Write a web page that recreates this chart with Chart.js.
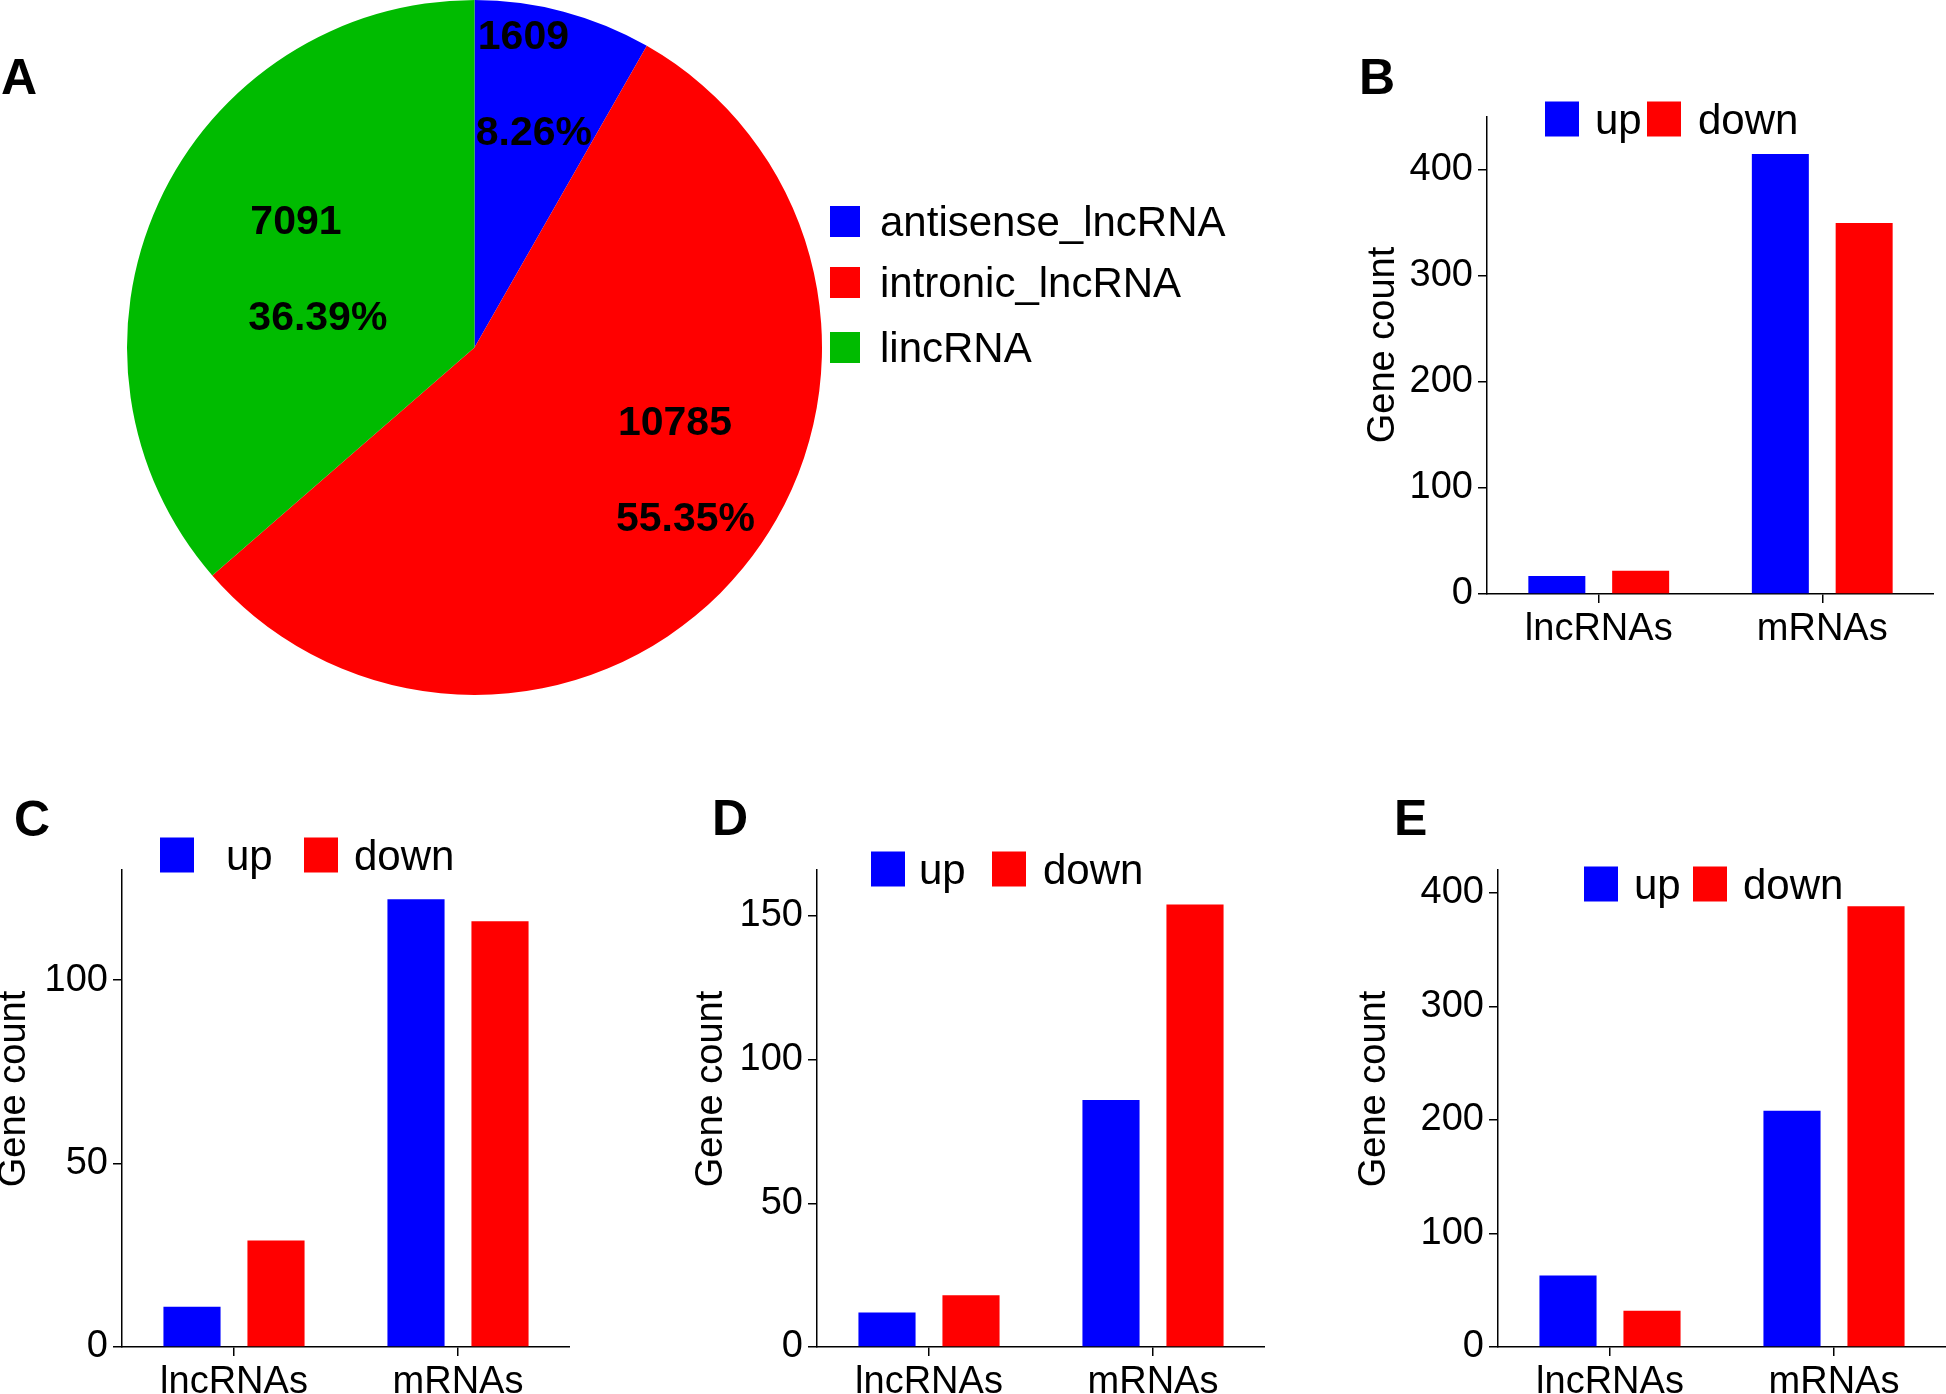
<!DOCTYPE html>
<html>
<head>
<meta charset="utf-8">
<title>lncRNA / mRNA counts</title>
<script src="https://cdn.jsdelivr.net/npm/chart.js@4.4.1/dist/chart.umd.min.js"></script>
<style>
  html, body { margin: 0; padding: 0; background: #fff; }
  #page { position: relative; width: 1946px; height: 1394px; overflow: hidden; background: #fff; }
  #page canvas { position: absolute; }
  .tag { position: absolute; font: bold 50px 'Liberation Sans', Arial, sans-serif; line-height: 50px; color: #000; }
</style>
</head>
<body>
<div id="page">
  <span class="tag" style="left:1px;top:52px">A</span>
  <span class="tag" style="left:1359px;top:52px">B</span>
  <span class="tag" style="left:14px;top:794px">C</span>
  <span class="tag" style="left:712px;top:793px">D</span>
  <span class="tag" style="left:1394px;top:793px">E</span>
</div>
<script>
// ---- data ----
var pieLabels = ['antisense_lncRNA', 'intronic_lncRNA', 'lincRNA'];
var pieCounts = [1609, 10785, 7091];
var pieColors = ['#0000FF', '#FF0000', '#00BB00'];

var categories = ['lncRNAs', 'mRNAs'];
var seriesNames = ['up', 'down'];
var seriesColors = ['#0000FF', '#FF0000'];

var upB = [17, 415];
var downB = [22, 350];
var upC = [11, 122];
var downC = [29, 116];
var upD = [12, 86];
var downD = [18, 154];
var upE = [63, 208];
var downE = [32, 388];

var yMaxB = 450, yStepB = 100;
var yMaxC = 130, yStepC = 50;
var yMaxD = 166, yStepD = 50;
var yMaxE = 420, yStepE = 100;

var FONT = "'Liberation Sans', Arial, Helvetica, sans-serif";
Chart.defaults.font.family = FONT;
Chart.defaults.color = '#000';

var page = document.getElementById('page');

function addCanvas(left, top, width, height) {
    var c = document.createElement('canvas');
    c.width = width;
    c.height = height;
    c.style.left = left + 'px';
    c.style.top = top + 'px';
    c.style.width = width + 'px';
    c.style.height = height + 'px';
    page.appendChild(c);
    return c;
}

/*
 * Pie: slice labels (count + percent) and the legend on the right
 */
var pieDecor = {
    id: 'pieDecor',
    afterDraw: function(chart, args, opts) {
        var ctx = chart.ctx;
        var values = chart.data.datasets[0].data;
        var colors = chart.data.datasets[0].backgroundColor;
        var total = values.reduce(function(a, b) { return a + b; }, 0);
        var meta = chart.getDatasetMeta(0);

        ctx.save();
        ctx.fillStyle = '#000';
        ctx.font = 'bold 41px ' + FONT;
        ctx.textAlign = 'left';
        ctx.textBaseline = 'alphabetic';
        meta.data.forEach(function(arc, i) {
            var p = arc.getProps(['x', 'y', 'startAngle', 'endAngle', 'outerRadius'], true);
            var mid = (p.startAngle + p.endAngle) / 2 + opts.nudge[i] * Math.PI / 180;
            var r = p.outerRadius * opts.radius[i];
            var cx = p.x + Math.cos(mid) * r;
            var cy = p.y + Math.sin(mid) * r;
            var pct = (values[i] / total * 100).toFixed(2) + '%';
            var w = ctx.measureText(pct).width;
            var x = cx - w / 2;
            ctx.fillText(String(values[i]), x + 2, cy - 34);
            ctx.fillText(pct, x, cy + 62);
        });

        // legend
        ctx.font = '42px ' + FONT;
        chart.data.labels.forEach(function(label, i) {
            var y = opts.legendY[i];
            ctx.fillStyle = colors[i];
            ctx.fillRect(opts.boxX, y - 15, 30, 31);
            ctx.fillStyle = '#000';
            ctx.fillText(label, opts.textX, y + 15);
        });
        ctx.restore();
    }
};

var pieCanvas = addCanvas(127, 0, 1113, 695);
new Chart(pieCanvas, {
    type: 'pie',
    data: {
        labels: pieLabels,
        datasets: [{
            data: pieCounts,
            backgroundColor: pieColors,
            borderWidth: 0
        }]
    },
    options: {
        responsive: false,
        animation: false,
        layout: { padding: { left: 0, top: 0, bottom: 0, right: 418 } },
        plugins: {
            legend: { display: false },
            tooltip: { enabled: false },
            pieDecor: {
                nudge: [-2.2, -9.5, 2.3],
                radius: [0.78, 0.70, 0.505],
                boxX: 703,
                textX: 753,
                legendY: [221, 282, 347]
            }
        }
    },
    plugins: [pieDecor]
});

/*
 * Bar panels: y title and the up/down legend above the plot
 */
var panelDecor = {
    id: 'panelDecor',
    afterDraw: function(chart, args, opts) {
        var ctx = chart.ctx;
        var area = chart.chartArea;
        ctx.save();

        // y axis title
        ctx.save();
        ctx.translate(area.left - opts.titleDx, area.top + opts.titleDy);
        ctx.rotate(-Math.PI / 2);
        ctx.fillStyle = '#000';
        ctx.font = '38px ' + FONT;
        ctx.textAlign = 'center';
        ctx.textBaseline = 'middle';
        ctx.fillText(opts.title, 0, 0);
        ctx.restore();

        // legend
        ctx.font = '42px ' + FONT;
        ctx.textAlign = 'left';
        ctx.textBaseline = 'alphabetic';
        var cy = area.top + opts.legendDy;
        chart.data.datasets.forEach(function(ds, i) {
            ctx.fillStyle = ds.backgroundColor;
            ctx.fillRect(area.left + opts.boxX[i], cy - 17.5, 34, 35);
            ctx.fillStyle = '#000';
            ctx.fillText(ds.label, area.left + opts.textX[i], cy + 15);
        });
        ctx.restore();
    }
};

var Y_W = 150, X_H = 60, PAD_TOP = 60;

function barChart(panel, up, down, yMax, yStep) {
    var w = Y_W + (panel.right - panel.left);
    var h = PAD_TOP + (panel.bottom - panel.top) + X_H;
    var canvas = addCanvas(panel.left - Y_W, panel.top - PAD_TOP, w, h);
    var axisGrid = {
        display: true,
        drawOnChartArea: false,
        drawTicks: true,
        tickLength: 9,
        color: '#000',
        lineWidth: 1.5
    };
    return new Chart(canvas, {
        type: 'bar',
        data: {
            labels: categories,
            datasets: [
                { label: seriesNames[0], data: up, backgroundColor: seriesColors[0] },
                { label: seriesNames[1], data: down, backgroundColor: seriesColors[1] }
            ]
        },
        options: {
            responsive: false,
            animation: false,
            categoryPercentage: 0.75,
            barPercentage: 0.68,
            layout: { padding: { top: PAD_TOP, left: 0, right: 0, bottom: 0 } },
            scales: {
                x: {
                    grid: Object.assign({ offset: false }, axisGrid),
                    border: { display: true, color: '#000', width: 1.5 },
                    ticks: { font: { size: 38 }, padding: 4, color: '#000' },
                    afterFit: function(scale) { scale.height = X_H; }
                },
                y: {
                    min: 0,
                    max: yMax,
                    grid: axisGrid,
                    border: { display: true, color: '#000', width: 1.5 },
                    ticks: { stepSize: yStep, includeBounds: false, font: { size: 38 }, padding: 5, color: '#000' },
                    afterFit: function(scale) { scale.width = Y_W; }
                }
            },
            plugins: {
                legend: { display: false },
                tooltip: { enabled: false },
                panelDecor: {
                    title: 'Gene count',
                    titleDx: panel.titleDx,
                    titleDy: panel.titleDy,
                    legendDy: panel.legendDy,
                    boxX: panel.boxX,
                    textX: panel.textX
                }
            }
        },
        plugins: [panelDecor]
    });
}

barChart({ left: 1487, top: 117, right: 1934, bottom: 594, titleDx: 103, titleDy: 228,
           legendDy: 2, boxX: [58, 160], textX: [108, 211] }, upB, downB, yMaxB, yStepB);
barChart({ left: 122, top: 870, right: 570, bottom: 1347, titleDx: 107, titleDy: 219,
           legendDy: -15, boxX: [38, 182], textX: [104, 232] }, upC, downC, yMaxC, yStepC);
barChart({ left: 817, top: 870, right: 1265, bottom: 1347, titleDx: 105, titleDy: 219,
           legendDy: -1, boxX: [54, 175], textX: [102, 226] }, upD, downD, yMaxD, yStepD);
barChart({ left: 1498, top: 870, right: 1946, bottom: 1347, titleDx: 123, titleDy: 219,
           legendDy: 14, boxX: [86, 195], textX: [136, 245] }, upE, downE, yMaxE, yStepE);
</script>
</body>
</html>
